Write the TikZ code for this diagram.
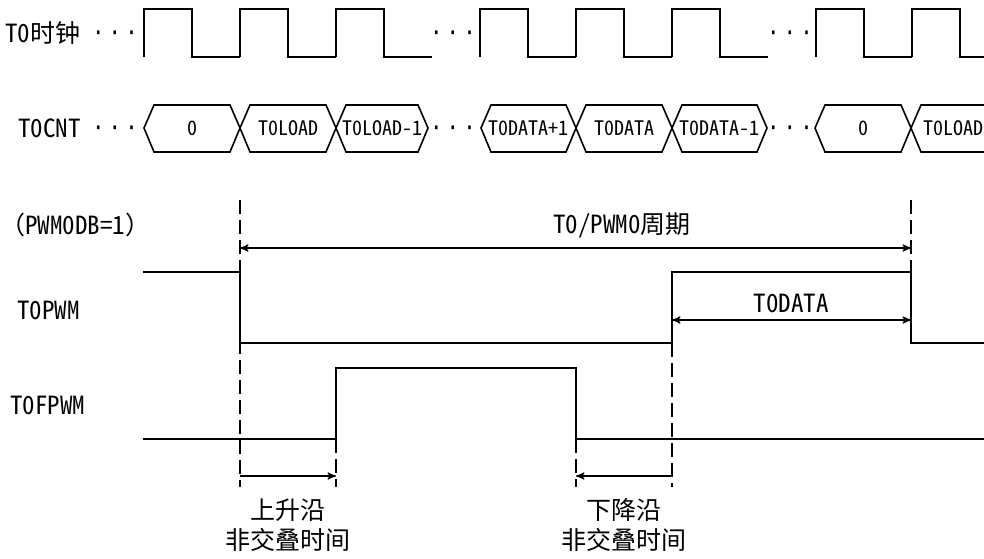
\documentclass[tikz,border=0pt]{standalone}
\usepackage{fontspec}
\setmainfont{Noto Sans CJK SC}[RawFeature=+hwid]
\newfontfamily\zhfont{Noto Sans CJK SC}
\newfontfamily\dotfont{DejaVu Sans Mono}[FakeStretch=0.83]
\newcommand{\zh}[1]{{\zhfont #1}}
\usetikzlibrary{arrows}

\begin{document}
\begin{tikzpicture}[x=0.5pt, y=-0.5pt,
  wave/.style={black, line width=1pt},
  guide/.style={black, line width=0.9pt, dash pattern=on 7pt off 3pt},
  dim/.style={black, line width=0.6pt, >=stealth'},
  lbl/.style={font=\fontsize{12.5}{15}\selectfont, inner sep=0pt},
  dots/.style={font=\fontsize{12.5}{15}\dotfont, inner sep=0pt, anchor=base},
  zh/.style={font=\fontsize{12.5}{15}\zhfont, inner sep=0pt, align=center},
  cell/.style={font=\fontsize{10}{12}\selectfont, inner sep=0pt}]
\clip (0,0) rectangle (984,558);
\fill[white] (0,0) rectangle (984,558);
\node[lbl, anchor=west] (clk) at (5,33) {T0\zh{时钟}};
\node[lbl, anchor=west] (cnt) at (18,128) {T0CNT};
\node[lbl, anchor=west] (mode) at (0,225) {\zh{（}PWM0DB=1\zh{）}};
\node[lbl, anchor=west] (pwm) at (17,310) {T0PWM};
\node[lbl, anchor=west] (fpwm) at (10,405) {T0FPWM};
\foreach \x [count=\i] in {115,453,790} {
  \node[dots] (dotclk\i) at (\x,41.5) {·\,·\,·};
  \node[dots] (dotcnt\i) at (\x,136.5) {·\,·\,·};
}
\foreach \x in {144,240,336,480,576,672,816,912}
  \draw[wave] (\x,57) -- (\x,9) -- ++(48,0) -- ++(0,48) -- ++(48,0);
\foreach \l/\r/\t [count=\i] in {144/240/0, 240/336/T0LOAD, 336/428/T0LOAD-1, 481/576/T0DATA+1, 576/672/T0DATA, 672/767/T0DATA-1, 815/911/0, 911/995/T0LOAD} {
  \draw[wave, line width=0.8pt] (\l,128) -- (\l+10,105) -- (\r-10,105) -- (\r,128) -- (\r-10,152) -- (\l+10,152) -- cycle;
  \node[cell] (val\i) at ({(\l+\r)/2},128) {\t};
}
\draw[wave] (143,272) -- (240,272) -- (240,343) -- (672,343) -- (672,272) -- (911,272) -- (911,343) -- (984,343);
\draw[wave] (143,439) -- (336,439) -- (336,368) -- (576,368) -- (576,439) -- (984,439);
\draw[guide] (240,200) -- (240,487);
\draw[guide] (911,200) -- (911,272);
\draw[guide] (672,343) -- (672,487);
\draw[guide] (336,439) -- (336,487);
\draw[guide] (576,439) -- (576,487);
\coordinate (per1) at (240,248);
\coordinate (per2) at (911,248);
\coordinate (dat1) at (672,320);
\coordinate (dat2) at (911,320);
\coordinate (rise1) at (240,476);
\coordinate (rise2) at (336,476);
\coordinate (fall1) at (672,476);
\coordinate (fall2) at (576,476);
\draw[dim,<->] (per1) -- (per2);
\draw[dim,<->] (dat1) -- (dat2);
\draw[dim,->] (rise1) -- (rise2);
\draw[dim,->] (fall1) -- (fall2);
\node[lbl] (period) at (622,225) {T0/PWM0\zh{周期}};
\node[lbl] (duty) at (791,303) {T0DATA};
\node[zh] (risetxt) at (288,525) {上升沿\\非交叠时间};
\node[zh] (falltxt) at (624,525) {下降沿\\非交叠时间};
\end{tikzpicture}
\end{document}
